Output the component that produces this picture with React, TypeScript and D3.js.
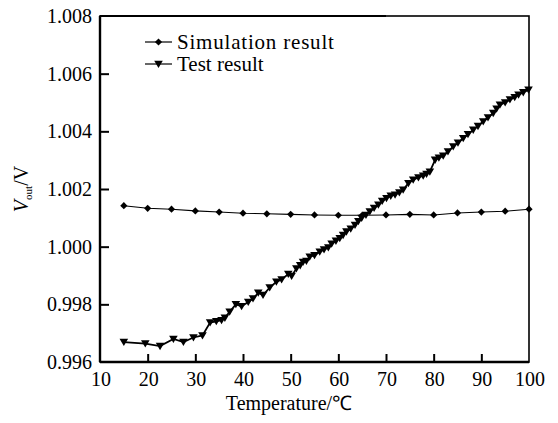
import React, { useEffect, useRef } from "react";
import * as d3 from "d3";

// Simulation result (temperature in degC, output in V)
const simTemps = [15, 20, 25, 30, 35, 40, 45, 50, 55, 60, 65, 70, 75, 80, 85, 90, 95, 100];
const simValues = [
  1.00142, 1.00133, 1.0013, 1.00124, 1.0012, 1.00116, 1.00114, 1.00112, 1.0011, 1.00109,
  1.00109, 1.0011, 1.00112, 1.0011, 1.00117, 1.0012, 1.00123, 1.0013,
];

// Test result
const testTemps = [
  15, 19.5, 22.6, 25.4, 27.5, 29.6, 31.5, 33.1, 34.4, 35.5, 36.2, 37.2, 38.5, 39.7, 41.1, 42.1,
  43.2, 44.2, 45.6, 47.0, 48.1, 49.5, 50.2, 51.2, 52.0, 52.6, 53.3, 54.0, 55.0, 56.1, 57.0, 57.9,
  58.6, 59.5, 60.3, 61.0, 61.7, 62.6, 63.5, 64.2, 64.9, 65.8, 66.6, 67.5, 68.4, 69.2, 70.1, 71.0,
  71.9, 72.8, 73.6, 74.7, 75.7, 76.8, 77.8, 78.5, 79.2, 80.3, 81.1, 82.0, 83.0, 84.1, 85.1, 86.2,
  87.2, 88.3, 89.3, 90.4, 91.4, 92.5, 93.2, 93.9, 95.0, 96.0, 97.0, 97.8, 98.8, 99.9,
];
const testValues = [
  0.99669, 0.99664, 0.99655, 0.9968, 0.99669, 0.99685, 0.99692, 0.99737, 0.99741, 0.99745, 0.99753,
  0.99774, 0.998, 0.99793, 0.99808, 0.9982, 0.9984, 0.99832, 0.99858, 0.99878, 0.99886, 0.99905,
  0.99898, 0.99924, 0.99935, 0.99947, 0.9995, 0.99965, 0.9997, 0.99982, 0.9999, 0.99997, 1.0001,
  1.0002, 1.00029, 1.0004, 1.00052, 1.00062, 1.00075, 1.00088, 1.00099, 1.0011, 1.00122, 1.00134,
  1.00145, 1.00158, 1.00168, 1.00176, 1.0018, 1.00188, 1.00197, 1.0022, 1.00232, 1.0024, 1.00246,
  1.00252, 1.0026, 1.00301, 1.00308, 1.00315, 1.0033, 1.00347, 1.0036, 1.00376, 1.0039, 1.00405,
  1.00418, 1.00434, 1.00448, 1.00463, 1.00478, 1.00492, 1.005, 1.0051, 1.00518, 1.00527, 1.00535,
  1.00544,
];

const xTicks = [10, 20, 30, 40, 50, 60, 70, 80, 90, 100];
const yTicks = [0.996, 0.998, 1.0, 1.002, 1.004, 1.006, 1.008];
const legendLabels = ["Simulation result", "Test result"];

const FONT = "'Liberation Serif', 'Times New Roman', serif";

const App = () => {
  const svgRef = useRef<SVGSVGElement | null>(null);
  const width = 558;
  const height = 423;

  useEffect(() => {
    const svg = d3.select(svgRef.current);
    svg.selectAll("*").remove();

    const x = d3.scaleLinear().domain([10, 100]).range([100, 529]);
    const y = d3.scaleLinear().domain([0.996, 1.008]).range([362, 16]);

    const root = svg.append("g");

    // frame
    root.append("rect")
      .attr("x", x(10))
      .attr("y", y(1.008))
      .attr("width", x(100) - x(10))
      .attr("height", y(0.996) - y(1.008))
      .attr("fill", "none")
      .attr("stroke", "#000")
      .attr("stroke-width", 1.6);
    root.append("line")
      .attr("x1", x(10)).attr("x2", x(10))
      .attr("y1", y(1.008)).attr("y2", y(0.996))
      .attr("stroke", "#000").attr("stroke-width", 2.4);
    root.append("line")
      .attr("x1", x(10)).attr("x2", x(100))
      .attr("y1", y(0.996)).attr("y2", y(0.996))
      .attr("stroke", "#000").attr("stroke-width", 2.4);
    root.append("line")
      .attr("x1", x(10)).attr("x2", x(70))
      .attr("y1", y(1.008)).attr("y2", y(1.008))
      .attr("stroke", "#000").attr("stroke-width", 2.2);

    // inward ticks
    const yAxis = d3.axisRight(y).tickValues(yTicks.slice(1, -1)).tickSize(9).tickFormat(() => "");
    const yg = root.append("g").attr("transform", `translate(${x(10)},0)`).call(yAxis);
    yg.select(".domain").remove();
    yg.selectAll("line").attr("stroke-width", 2);

    const xAxis = d3.axisTop(x).tickValues(xTicks.slice(1, -1)).tickSize(8).tickFormat(() => "");
    const xg = root.append("g").attr("transform", `translate(0,${y(0.996)})`).call(xAxis);
    xg.select(".domain").remove();
    xg.selectAll("line").attr("stroke-width", 2);

    // tick labels
    root.selectAll("text.ylab")
      .data(yTicks)
      .join("text")
      .attr("class", "ylab")
      .attr("x", 92)
      .attr("y", (d) => y(d) + 7)
      .attr("text-anchor", "end")
      .attr("font-family", FONT)
      .attr("font-size", 20)
      .text((d) => d3.format(".3f")(d));

    root.selectAll("text.xlab")
      .data(xTicks)
      .join("text")
      .attr("class", "xlab")
      .attr("x", (d) => x(d) + 1)
      .attr("y", 386)
      .attr("text-anchor", "middle")
      .attr("font-family", FONT)
      .attr("font-size", 20)
      .text((d) => d);

    // axis titles
    root.append("text")
      .attr("x", 289)
      .attr("y", 410)
      .attr("text-anchor", "middle")
      .attr("font-family", FONT)
      .attr("font-size", 20)
      .text("Temperature/℃");

    const yt = root.append("text")
      .attr("transform", `translate(28,189) rotate(-90)`)
      .attr("text-anchor", "middle")
      .attr("font-family", FONT)
      .attr("font-size", 20);
    yt.append("tspan").attr("font-style", "italic").text("V");
    yt.append("tspan").attr("font-size", 11).attr("dy", 4).text("out");
    yt.append("tspan").attr("dy", -4).text("/V");

    const line = d3.line<[number, number]>().x((d) => x(d[0])).y((d) => y(d[1]));
    const simData: [number, number][] = simTemps.map((t, i) => [t, simValues[i]]);
    const testData: [number, number][] = testTemps.map((t, i) => [t, testValues[i]]);

    const diamond = "M0,-3.6L3.6,0L0,3.6L-3.6,0Z";
    const tri = "M-4.3,-3.3L4.3,-3.3L0,4Z";

    root.append("path")
      .attr("d", line(simData))
      .attr("fill", "none")
      .attr("stroke", "#000")
      .attr("stroke-width", 1.1);
    root.selectAll("path.sim")
      .data(simData)
      .join("path")
      .attr("class", "sim")
      .attr("d", diamond)
      .attr("transform", (d) => `translate(${x(d[0])},${y(d[1])})`)
      .attr("fill", "#000");

    root.append("path")
      .attr("d", line(testData))
      .attr("fill", "none")
      .attr("stroke", "#000")
      .attr("stroke-width", 1.8);
    root.selectAll("path.test")
      .data(testData)
      .join("path")
      .attr("class", "test")
      .attr("d", tri)
      .attr("transform", (d) => `translate(${x(d[0])},${y(d[1])})`)
      .attr("fill", "#000");

    // legend
    const rows = [42, 64];
    legendLabels.forEach((label, i) => {
      const g = root.append("g").attr("transform", `translate(145,${rows[i]})`);
      g.append("line").attr("x1", 0).attr("x2", 27).attr("stroke", "#000").attr("stroke-width", 1.2);
      g.append("path").attr("d", i === 0 ? diamond : tri).attr("transform", "translate(13.5,0)").attr("fill", "#000");
      g.append("text")
        .attr("x", 32)
        .attr("y", 7)
        .attr("font-family", FONT)
        .attr("font-size", 21)
        .attr("letter-spacing", i === 0 ? 0.8 : 0)
        .text(label);
    });
  }, []);

  return (
    <svg
      ref={svgRef}
      width={width}
      height={height}
      style={{ position: "absolute", left: 0, top: 0, background: "#fff" }}
    />
  );
};

export default App;
